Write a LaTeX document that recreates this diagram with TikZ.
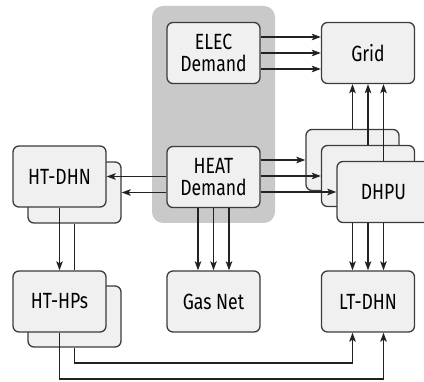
\documentclass[tikz,border=0pt]{standalone}
\usepackage{fontspec}
\setmainfont{Fira Sans}[FakeStretch=0.8]
\usetikzlibrary{arrows.meta}
\definecolor{boxfill}{HTML}{F0F0F0}
\definecolor{boxline}{HTML}{3C3C3C}
\definecolor{bggray}{HTML}{C9C9C9}
\definecolor{arrowcol}{HTML}{222222}
\begin{document}
\begin{tikzpicture}[x=1pt,y=-1pt,
  box/.style={draw=boxline,fill=boxfill,line width=1.3pt,rounded corners=6pt,
    minimum width=93pt,minimum height=61pt,inner sep=0pt,align=center,
    font=\fontsize{22}{22}\selectfont},
  flow/.style={draw=arrowcol,line width=1.4pt,-{Stealth[length=9pt,width=6.5pt,inset=2pt]}},
  plain/.style={draw=arrowcol,line width=1.4pt}]
\useasboundingbox (0,0) rectangle (424,382);
% background group
\node[fill=bggray,rounded corners=11pt,minimum width=123pt,minimum height=217pt,inner sep=0pt] (bg) at (213.5,114.5) {};
% main boxes
\node[box] (elec) at (213.5,53) {ELEC\\Demand};
\node[box] (heat) at (213.5,177) {HEAT\\Demand};
\node[box] (grid) at (368,53) {Grid};
\node[box] (gas) at (213.5,301.5) {Gas Net};
\node[box] (lt) at (368,301.5) {LT-DHN};
% DHPU stack
\node[box] (dhpuA) at (352.5,160) {};
\node[box] (dhpuB) at (368,176) {};
\node[box] (dhpuC) at (383.5,192) {DHPU};
% HT-DHN stack
\node[box] (dhnB) at (74.5,192.5) {};
\node[box] (dhnA) at (59.5,176.5) {HT-DHN};
% HT-HPs stack
\node[box] (hpB) at (74.5,316.5) {};
\node[box] (hpA) at (59.5,301.5) {HT-HPs};
% ELEC -> Grid
\foreach \d in {-16,0,16}
  \draw[flow] ([yshift=\d pt]elec.east) -- ([yshift=\d pt]elec.east -| grid.west);
% HEAT -> DHPU
\foreach \n in {dhpuA,dhpuB,dhpuC}
  \draw[flow] (heat.east |- \n.west) -- (\n.west);
% DHPU -> Grid
\foreach \n in {dhpuA,dhpuB,dhpuC}
  \draw[flow] (\n.north) -- (\n.north |- grid.south);
% DHPU -> LT-DHN
\foreach \n in {dhpuA,dhpuB,dhpuC}
  \draw[flow] (\n.center |- dhpuC.south) -- (\n.center |- lt.north);
% HEAT -> HT-DHN
\draw[flow] (heat.west |- dhnA.east) -- (dhnA.east);
\draw[flow] (heat.west |- dhnB.east) -- (dhnB.east);
% HEAT -> Gas Net
\foreach \d in {-15.5,0,15.5}
  \draw[flow] ([xshift=\d pt]heat.south) -- ([xshift=\d pt]heat.south |- gas.north);
% HT-DHN -> HT-HPs
\draw[flow] (dhnA.south) -- (hpA.north);
\draw[plain] (dhnB.south) -- (dhnB.south |- hpA.north);
% HT-HPs -> LT-DHN
\coordinate (c1) at (59.5,379);
\coordinate (c2) at (74.5,363);
\draw[flow] (hpA.south) -- (hpA.south |- c1) -| (dhpuC.center |- lt.south);
\draw[flow] (hpB.south) -- (hpB.south |- c2) -| (dhpuA.center |- lt.south);
\end{tikzpicture}
\end{document}
